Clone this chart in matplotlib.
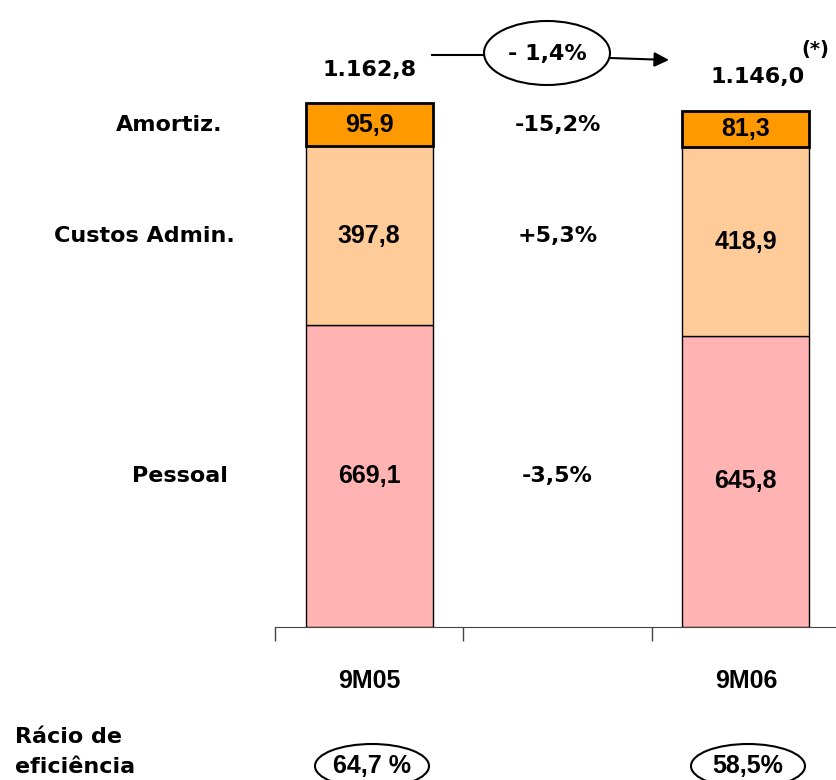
import matplotlib
matplotlib.use('Agg')
import matplotlib.pyplot as plt
from matplotlib.patches import Ellipse
from matplotlib.transforms import blended_transform_factory

# --- data ---
categories = ['9M05', '9M06']
pessoal = [669.1, 645.8]
custos_admin = [397.8, 418.9]
amortiz = [95.9, 81.3]
total_labels = ['1.162,8', '1.146,0']
segment_names = ['Pessoal', 'Custos Admin.', 'Amortiz.']
segment_var = ['-3,5%', '+5,3%', '-15,2%']
total_var = '- 1,4%'
ratio_labels = ['64,7 %', '58,5%']

W, H = 836, 780
plt.rcParams['font.family'] = ['DejaVu Sans']
plt.rcParams['font.weight'] = 'bold'
WIDE = dict(family='DejaVu Sans', fontsize=16, fontweight='bold')
NARROW = dict(family='Liberation Sans', fontsize=18, fontweight='bold')

fig = plt.figure(figsize=(W / 100, H / 100), dpi=100)

# main axes, pixel box: x 275..840, y 20..627
ax = fig.add_axes([275 / W, 1 - 627 / H, (840 - 275) / W, (627 - 20) / H])
# overlay in pixel coordinates for annotations
ov = fig.add_axes([0, 0, 1, 1], zorder=5)
ov.set_xlim(0, W)
ov.set_ylim(H, 0)
ov.axis('off')
ov.patch.set_alpha(0)

xpos = [0, 2]
width = 0.675
ax.bar(xpos, pessoal, width, color='#FFB3B3', edgecolor='black', linewidth=1)
ax.bar(xpos, custos_admin, width, bottom=pessoal, color='#FFCC99',
       edgecolor='black', linewidth=1)
bottoms = [p + c for p, c in zip(pessoal, custos_admin)]
ax.bar(xpos, amortiz, width, bottom=bottoms, color='#FF9900',
       edgecolor='black', linewidth=2)

ax.set_xlim(-0.5, 2.5)
ax.set_ylim(0, 1347)
for s in ['top', 'right', 'left']:
    ax.spines[s].set_visible(False)
ax.spines['bottom'].set_color('#444444')
ax.set_yticks([])
ax.set_xticks(xpos, categories, family='Liberation Sans', fontsize=18,
              fontweight='bold')
ax.tick_params(axis='x', which='major', length=0, pad=30)
ax.set_xticks([-0.5, 0.5, 1.5], minor=True)
ax.tick_params(axis='x', which='minor', length=10, width=1, color='#444444')

# values inside segments
for i, x in enumerate(xpos):
    segs = [pessoal[i], custos_admin[i], amortiz[i]]
    base = 0
    for v in segs:
        ax.text(x, base + v / 2, f'{v:.1f}'.replace('.', ','), ha='center',
                va='center', **NARROW)
        base += v

# segment names (left) and variations (middle), aligned with bar 1 segments
mids = [pessoal[0] / 2, pessoal[0] + custos_admin[0] / 2,
        bottoms[0] + amortiz[0] / 2]
name_right = [228, 235, 222]
tr = blended_transform_factory(ov.transData, ax.transData)
for name, var, m, xr in zip(segment_names, segment_var, mids, name_right):
    ax.text(xr, m, name, transform=tr, ha='right', va='center', **WIDE)
    ax.text(1, m, var, ha='center', va='center', **WIDE)

# totals
ov.text(370, 70, total_labels[0], ha='center', va='center', **WIDE)
ov.text(758, 77, total_labels[1], ha='center', va='center', **WIDE)
ov.text(815, 50, '(*)', ha='center', va='center', family='DejaVu Sans',
        fontsize=14, fontweight='bold')

# total variation bubble + arrow
ov.add_patch(Ellipse((547, 53), 126, 64, fill=False, edgecolor='black',
                     linewidth=1.5))
ov.text(547, 54, total_var, ha='center', va='center', **WIDE)
ov.plot([432, 484], [55, 55], color='black', linewidth=1.5)
ov.annotate('', xy=(669, 60), xytext=(610, 58),
            arrowprops=dict(arrowstyle='-|>', color='black', lw=1.5,
                            mutation_scale=22, shrinkA=0, shrinkB=0))

# efficiency ratio
ov.text(15, 737, 'Rácio de', ha='left', va='center', **WIDE)
ov.text(15, 767, 'eficiência', ha='left', va='center', **WIDE)
for cx, lab in zip([372, 748], ratio_labels):
    ov.add_patch(Ellipse((cx, 766), 114, 44, fill=False, edgecolor='black',
                         linewidth=1.5, clip_on=False))
    ov.text(cx, 766, lab, ha='center', va='center', **NARROW)

fig.savefig('out.png', dpi=100)
